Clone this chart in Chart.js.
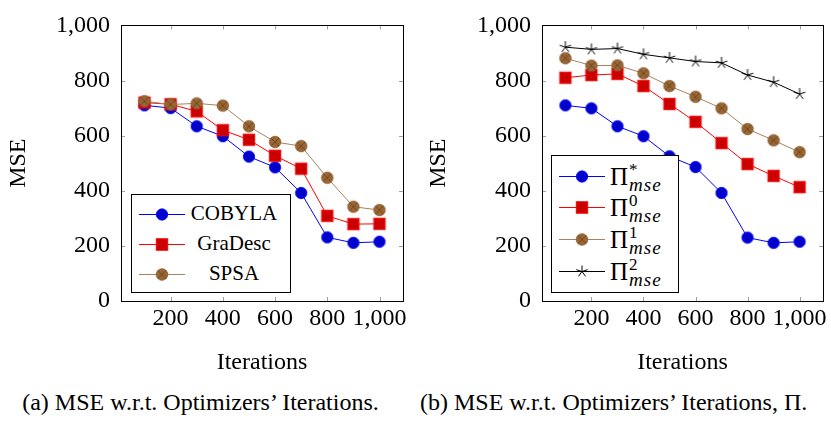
<!DOCTYPE html>
<html>
<head>
<meta charset="utf-8">
<script src="https://cdn.jsdelivr.net/npm/chart.js@4.4.1/dist/chart.umd.min.js"></script>
<style>
  html, body { margin:0; padding:0; background:#fff; }
  #wrap { position:relative; width:831px; height:422px; font-family:"Liberation Serif", "Times New Roman", serif; color:#000; }
  canvas.chart { position:absolute; top:0; }
  .legend { position:absolute; border:1px solid #000; background:#fff; box-sizing:border-box; }
  .row { position:absolute; left:0; height:20px; }
  .row canvas { display:block; }
  .lbl { font-size:21px; }
  .pi { font-size:25px; display:flex; align-items:center; }
  .ss { display:inline-flex; flex-direction:column; font-style:italic; font-size:19px; line-height:15px; margin-left:1px; letter-spacing:1px; }
  .ss .sup { font-style:normal; font-size:17px; letter-spacing:0; }
  .cap { position:absolute; top:389px; font-size:24px; white-space:nowrap; text-align:center; }
</style>
</head>
<body>
<div id="wrap">
  <canvas id="c1" class="chart" width="415" height="385" style="left:0"></canvas>
  <canvas id="c2" class="chart" width="411" height="385" style="left:420px"></canvas>
  <div id="leg1" class="legend" style="left:131px;top:194px;width:160px;height:99px"></div>
  <div id="leg2" class="legend" style="left:551px;top:155px;width:128px;height:138px"></div>
  <div class="cap" style="left:0;width:401px">(a) MSE w.r.t. Optimizers’ Iterations.</div>
  <div class="cap" style="left:420px;width:387px">(b) MSE w.r.t. Optimizers’ Iterations, Π.</div>
</div>
<script>
const iterations = [100, 200, 300, 400, 500, 600, 700, 800, 900, 1000];
const xTicks = [200, 400, 600, 800, 1000];
const yTicks = [0, 200, 400, 600, 800, 1000];

// (a) optimizers
const cobyla  = [710, 700, 634, 598, 524, 485, 392, 231, 211, 215];
const graDesc = [720, 714, 688, 620, 585, 527, 480, 309, 279, 280];
const spsa    = [725, 713, 717, 709, 634, 577, 562, 447, 342, 330];

// (b) Pi variants
const piStar = [710, 699, 634, 598, 525, 486, 392, 230, 211, 215];
const pi0    = [810, 820, 824, 780, 715, 650, 573, 497, 454, 413];
const pi1    = [881, 854, 855, 826, 780, 741, 699, 624, 583, 540];
const pi2    = [921, 913, 916, 895, 882, 869, 864, 820, 794, 751];

const BLUE = '#0000ff', RED = '#ff0000', BROWN = '#a8825a', BLACK = '#000000';

// marker drawing, shared by chart points and legend
function drawMarker(g, kind, x, y) {
  g.save();
  if (kind === 'circle') {
    g.beginPath(); g.arc(x, y, 5.7, 0, Math.PI*2);
    g.fillStyle = '#0000cc'; g.fill();
    g.strokeStyle = BLUE; g.lineWidth = 0.8; g.stroke();
  } else if (kind === 'square') {
    g.fillStyle = '#cc0000'; g.fillRect(x-5.8, y-5.8, 11.6, 11.6);
    g.strokeStyle = RED; g.lineWidth = 0.8; g.strokeRect(x-5.8, y-5.8, 11.6, 11.6);
  } else if (kind === 'otimes') {
    g.beginPath(); g.arc(x, y, 5.8, 0, Math.PI*2);
    g.fillStyle = '#996633'; g.fill();
    g.strokeStyle = '#8a5c2e'; g.lineWidth = 0.8; g.stroke();
    const d = 5.8 * Math.SQRT1_2;
    g.beginPath();
    g.moveTo(x-d, y-d); g.lineTo(x+d, y+d);
    g.moveTo(x-d, y+d); g.lineTo(x+d, y-d);
    g.strokeStyle = '#5a3b1c'; g.lineWidth = 0.7; g.stroke();
  } else if (kind === 'star') {
    g.beginPath();
    for (let k = 0; k < 5; k++) {
      const a = -Math.PI/2 + k * 2*Math.PI/5;
      g.moveTo(x, y); g.lineTo(x + 6*Math.cos(a), y + 6*Math.sin(a));
    }
    g.strokeStyle = BLACK; g.lineWidth = 1; g.stroke();
  }
  g.restore();
}
function markerImage(kind) {
  const c = document.createElement('canvas');
  c.width = 16; c.height = 16;
  drawMarker(c.getContext('2d'), kind, 8, 8);
  return c;
}

const fmt = v => Number(v).toLocaleString('en-US');
const tickFont = { family: "'Liberation Serif', 'Times New Roman', serif", size: 24 };

// inward tick marks + black frame like pgfplots
const framePlugin = {
  id: 'frame',
  afterDatasetsDraw(chart) {
    const { ctx, chartArea: a, scales: { x, y } } = chart;
    ctx.save();
    ctx.strokeStyle = '#a0a0a0'; ctx.lineWidth = 1;
    ctx.beginPath();
    xTicks.forEach(v => {
      const px = Math.round(x.getPixelForValue(v)) + 0.5;
      ctx.moveTo(px, a.top); ctx.lineTo(px, a.top + 4);
      ctx.moveTo(px, a.bottom); ctx.lineTo(px, a.bottom - 4);
    });
    yTicks.forEach(v => {
      const py = Math.round(y.getPixelForValue(v)) + 0.5;
      ctx.moveTo(a.left, py); ctx.lineTo(a.left + 4, py);
      ctx.moveTo(a.right, py); ctx.lineTo(a.right - 4, py);
    });
    ctx.stroke();
    ctx.strokeStyle = '#000'; ctx.lineWidth = 1;
    ctx.strokeRect(Math.round(a.left) + 0.5, Math.round(a.top) + 0.5,
                   Math.round(a.right - a.left), Math.round(a.bottom - a.top));
    ctx.restore();
  }
};

function makeSeries(label, values, color, kind, idx, total) {
  return {
    label,
    data: iterations.map((it, i) => ({ x: it, y: values[i] })),
    borderColor: color,
    borderWidth: 1,
    pointStyle: markerImage(kind),
    pointRadius: 6,
    pointHoverRadius: 6,
    fill: false,
    tension: 0,
    order: total - idx
  };
}

function makeChart(id, datasets, yWidth, rightPad) {
  return new Chart(document.getElementById(id), {
    type: 'line',
    data: { datasets },
    plugins: [framePlugin],
    options: {
      responsive: false,
      animation: false,
      layout: { padding: { top: 21, right: rightPad, left: 0, bottom: 0 } },
      plugins: { legend: { display: false }, tooltip: { enabled: false } },
      scales: {
        x: {
          type: 'linear', min: 10, max: 1090,
          afterBuildTicks: s => { s.ticks = xTicks.map(v => ({ value: v })); },
          afterFit: s => { s.height = 84; },
          grid: { display: false, drawTicks: false },
          border: { display: false },
          ticks: { callback: fmt, font: tickFont, color: '#000', padding: 3, maxRotation: 0, autoSkip: false },
          title: { display: true, text: 'Iterations', font: tickFont, color: '#000', padding: { top: 0, bottom: 8 } }
        },
        y: {
          min: 0, max: 1000,
          afterBuildTicks: s => { s.ticks = yTicks.map(v => ({ value: v })); },
          afterFit: s => { s.width = yWidth; },
          grid: { display: false, drawTicks: false },
          border: { display: false },
          ticks: { callback: fmt, font: tickFont, color: '#000', padding: 11 },
          title: { display: true, text: 'MSE', font: tickFont, color: '#000', padding: { top: 4, bottom: 0 } }
        }
      }
    }
  });
}

makeChart('c1', [
  makeSeries('COBYLA', cobyla, BLUE, 'circle', 0, 3),
  makeSeries('GraDesc', graDesc, RED, 'square', 1, 3),
  makeSeries('SPSA', spsa, BROWN, 'otimes', 2, 3)
], 121, 12);

makeChart('c2', [
  makeSeries('Π*mse', piStar, BLUE, 'circle', 0, 4),
  makeSeries('Π0mse', pi0, RED, 'square', 1, 4),
  makeSeries('Π1mse', pi1, BROWN, 'otimes', 2, 4),
  makeSeries('Π2mse', pi2, BLACK, 'star', 3, 4)
], 122, 8);

// legends (html, with sample line + marker)
function sample(color, kind) {
  const c = document.createElement('canvas');
  c.width = 46; c.height = 20;
  const g = c.getContext('2d');
  g.strokeStyle = color; g.lineWidth = 1;
  g.beginPath(); g.moveTo(0, 10.5); g.lineTo(46, 10.5); g.stroke();
  drawMarker(g, kind, 23, 10.5);
  return c;
}
function addRow(legId, top, color, kind, html, textLeft, textWidth, textTop) {
  const row = document.createElement('div');
  row.className = 'row';
  row.style.top = (top - 10) + 'px';
  row.style.width = '100%';
  const s = sample(color, kind);
  s.style.position = 'absolute'; s.style.left = '7px';
  row.appendChild(s);
  const t = document.createElement('div');
  t.innerHTML = html;
  t.style.position = 'absolute';
  t.style.left = textLeft + 'px';
  if (textWidth) { t.style.width = textWidth + 'px'; t.style.textAlign = 'center'; }
  t.style.top = textTop + 'px';
  row.appendChild(t);
  document.getElementById(legId).appendChild(row);
}
const leg1Rows = [['COBYLA', BLUE, 'circle', 19], ['GraDesc', RED, 'square', 49], ['SPSA', BROWN, 'otimes', 79]];
leg1Rows.forEach(r => addRow('leg1', r[3], r[1], r[2], '<span class="lbl">' + r[0] + '</span>', 58, 88, -3));

const leg2Rows = [['*', BLUE, 'circle', 20], ['0', RED, 'square', 51], ['1', BROWN, 'otimes', 83], ['2', BLACK, 'star', 115]];
leg2Rows.forEach(r => addRow('leg2', r[3], r[1], r[2],
  '<span class="pi">Π<span class="ss"><span class="sup">' + r[0] + '</span><span>mse</span></span></span>', 58, 0, -4));
</script>
</body>
</html>
